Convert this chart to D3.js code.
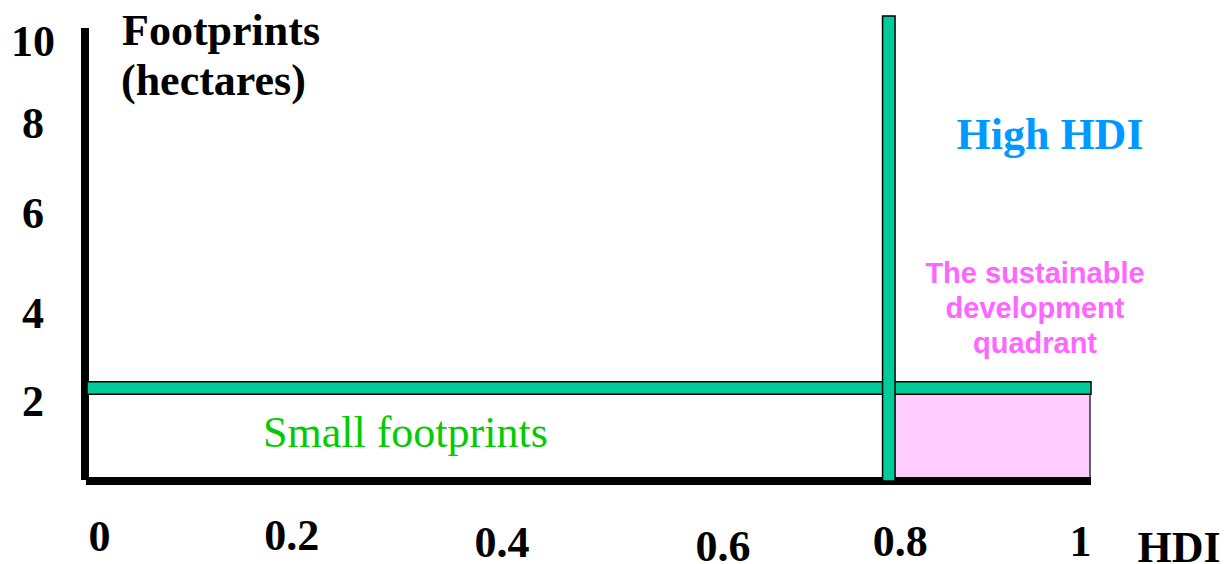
<!DOCTYPE html>
<html>
<head>
<meta charset="utf-8">
<script src="https://cdn.jsdelivr.net/npm/d3@7"></script>
<style>
  html, body { margin: 0; padding: 0; background: #ffffff; }
  svg { display: block; }
  .num { font-family: "Liberation Serif", "Times New Roman", serif; font-weight: bold; font-size: 44px; fill: #000; }
</style>
</head>
<body>
<script>
// HDI (x) and ecological footprint in hectares (y)
const xTicks = [0, 0.2, 0.4, 0.6, 0.8, 1];
const xTickLabels = ["0", "0.2", "0.4", "0.6", "0.8", "1"];
const yTicks = [10, 8, 6, 4, 2];
const yTickLabels = ["10", "8", "6", "4", "2"];

// Thresholds that split the plane into quadrants
const hdiThreshold = [0.8];       // high human development starts here
const footprintLimit = [2];       // hectares per person the planet can sustain
const hdiDomain = [0, 1];
const footprintDomain = [0, 10];

// Hand-tuned label nudges (px) so the numerals sit where the slide put them
const xLabelDx = [15, 6, 15, 35, 11, -10];
const xLabelBaseline = [551, 550, 557, 561, 556, 556];
const yLabelDy = [39, 28, 25, 32, 27];

const W = 1232, H = 564;
const svg = d3.select("body").append("svg").attr("width", W).attr("height", H);

const x = d3.scaleLinear().domain(hdiDomain).range([84, 1090]);
const y = d3.scaleLinear().domain(footprintDomain).range([481, 16]);

const barThick = 12.5;
const green = "#00cc99";

// Sustainable development quadrant: high HDI and small footprint
svg.append("rect")
  .attr("x", x(hdiThreshold[0]))
  .attr("y", y(footprintLimit[0]))
  .attr("width", x(hdiDomain[1]) - x(hdiThreshold[0]))
  .attr("height", y(0) - y(footprintLimit[0]))
  .attr("fill", "#ffccff")
  .attr("stroke", "#333")
  .attr("stroke-width", 1.5);

// Axes drawn as heavy black rules
svg.append("line")
  .attr("x1", x(0) + 1).attr("x2", x(0) + 1)
  .attr("y1", y(9.74)).attr("y2", y(0) - 1)
  .attr("stroke", "#000").attr("stroke-width", 8);
svg.append("line")
  .attr("x1", x(0) + 2).attr("x2", x(1) + 1)
  .attr("y1", y(0)).attr("y2", y(0))
  .attr("stroke", "#000").attr("stroke-width", 8);

// Footprint limit band (horizontal)
svg.selectAll("rect.limit").data(footprintLimit).join("rect")
  .attr("class", "limit")
  .attr("x", x(hdiDomain[0]) + 3)
  .attr("y", d => y(d) - barThick / 2)
  .attr("width", x(hdiDomain[1]) - x(hdiDomain[0]) - 2)
  .attr("height", barThick)
  .attr("fill", green)
  .attr("stroke", "#000")
  .attr("stroke-width", 1.5);

// HDI threshold band (vertical)
svg.selectAll("rect.hdi").data(hdiThreshold).join("rect")
  .attr("class", "hdi")
  .attr("x", d => x(d) - barThick / 2)
  .attr("y", y(footprintDomain[1]))
  .attr("width", barThick)
  .attr("height", y(0) - y(footprintDomain[1]))
  .attr("fill", green)
  .attr("stroke", "#000")
  .attr("stroke-width", 1.5);

// X tick labels via d3 axis
const xAxis = d3.axisBottom(x)
  .tickValues(xTicks)
  .tickFormat((d, i) => xTickLabels[i])
  .tickSize(0);
const gx = svg.append("g").call(xAxis);
gx.select(".domain").remove();
gx.selectAll(".tick text")
  .attr("class", "num")
  .attr("dy", 0)
  .attr("x", (d, i) => xLabelDx[i])
  .attr("y", (d, i) => xLabelBaseline[i]);

// Y tick labels via d3 axis
const yAxis = d3.axisLeft(y)
  .tickValues(yTicks)
  .tickFormat((d, i) => yTickLabels[i])
  .tickSize(0);
const gy = svg.append("g").call(yAxis);
gy.select(".domain").remove();
gy.selectAll(".tick text")
  .attr("class", "num")
  .attr("text-anchor", "middle")
  .attr("dy", 0)
  .attr("x", 33)
  .attr("y", (d, i) => yLabelDy[i]);

// Axis titles
const serifBold = '"Liberation Serif", "Times New Roman", serif';
svg.append("text").attr("class", "num").attr("x", 122).attr("y", 45).text("Footprints");
svg.append("text").attr("class", "num").attr("x", 121).attr("y", 95).text("(hectares)");
svg.append("text").attr("class", "num").attr("x", 1179).attr("y", 562)
  .attr("text-anchor", "middle").text("HDI");

// Annotations
svg.append("text")
  .attr("x", 1050).attr("y", 149)
  .attr("text-anchor", "middle")
  .attr("font-family", serifBold).attr("font-weight", "bold").attr("font-size", 44)
  .attr("fill", "#0099ff")
  .text("High HDI");

svg.append("text")
  .attr("x", 263).attr("y", 447)
  .attr("font-family", serifBold).attr("font-size", 44)
  .attr("fill", "#00cc00")
  .text("Small footprints");

const quadLines = ["The sustainable", "development", "quadrant"];
svg.append("g").selectAll("text").data(quadLines).join("text")
  .attr("x", 1035)
  .attr("y", (d, i) => 283 + i * 35)
  .attr("text-anchor", "middle")
  .attr("font-family", '"Liberation Sans", Arial, sans-serif')
  .attr("font-weight", "bold")
  .attr("font-size", 29)
  .attr("fill", "#ff66ff")
  .text(d => d);
</script>
</body>
</html>
